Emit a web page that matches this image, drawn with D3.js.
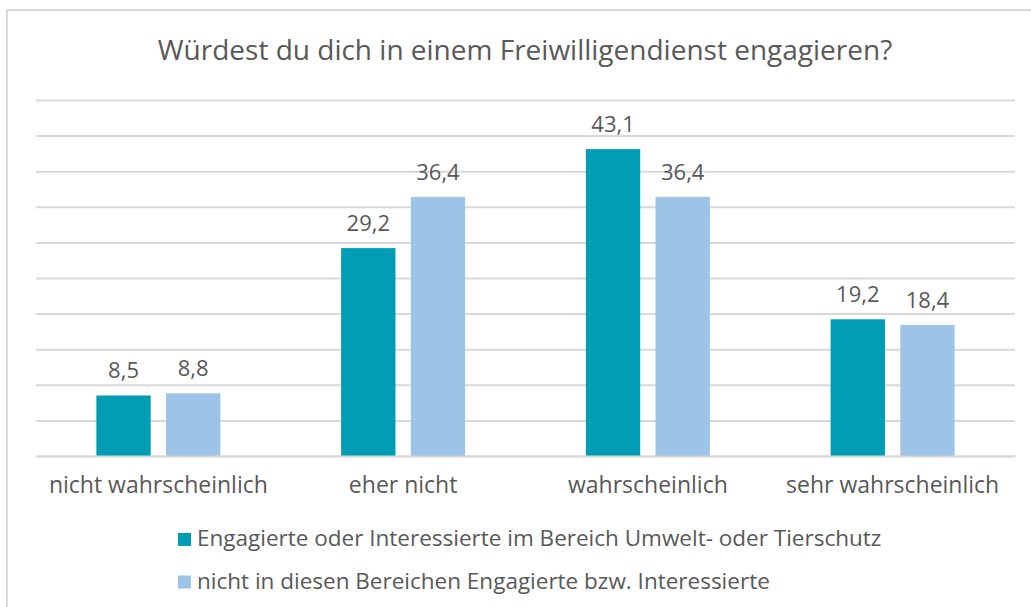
<!DOCTYPE html>
<html>
<head>
<meta charset="utf-8">
<script src="https://cdn.jsdelivr.net/npm/d3@7"></script>
<style>
  body { margin: 0; background: #fff; }
  svg text { font-family: "Open Sans", "Noto Sans", sans-serif; fill: #595959; }
</style>
</head>
<body>
<div id="chart"></div>
<script>
// chart data
const title = "Würdest du dich in einem Freiwilligendienst engagieren?";
const categories = ["nicht wahrscheinlich", "eher nicht", "wahrscheinlich", "sehr wahrscheinlich"];
const seriesNames = [
    "Engagierte oder Interessierte im Bereich Umwelt- oder Tierschutz",
    "nicht in diesen Bereichen Engagierte bzw. Interessierte"
];
const engagierte = [8.5, 29.2, 43.1, 19.2];
const nichtEngagierte = [8.8, 36.4, 36.4, 18.4];
const colours = ["#009db5", "#9dc3e6"];

const width = 1031, height = 607;
const margin = {top: 100, right: 16, bottom: 151, left: 36};

const svg = d3.select("#chart").append("svg")
    .attr("width", width)
    .attr("height", height);

// outer frame (runs off the right and bottom edge)
svg.append("rect")
    .attr("x", 7).attr("y", 10)
    .attr("width", width + 10).attr("height", height + 10)
    .attr("fill", "none")
    .attr("stroke", "#d9d9d9")
    .attr("stroke-width", 2);

svg.append("text")
    .attr("x", 525).attr("y", 60)
    .attr("text-anchor", "middle")
    .style("font-size", "28px")
    .text(title);

const chart = svg.append("g")
    .attr("transform", `translate(${margin.left},${margin.top})`);

const innerW = width - margin.left - margin.right;
const innerH = height - margin.top - margin.bottom;

const x = d3.scaleBand()
    .domain(categories)
    .range([0, innerW]);

const x1 = d3.scaleBand()
    .domain([0, 1])
    .range([0, 124])
    .paddingInner(0.22);

const y = d3.scaleLinear()
    .domain([0, 50])
    .range([innerH, 0]);

// gridlines
chart.append("g")
    .call(d3.axisLeft(y).ticks(10).tickSize(-innerW).tickFormat(""))
    .call(g => g.select(".domain").remove())
    .call(g => g.selectAll("line").attr("stroke", "#d9d9d9").attr("stroke-width", 2));

const data = [];
categories.forEach((c, i) => {
    data.push({cat: c, s: 0, val: engagierte[i]});
    data.push({cat: c, s: 1, val: nichtEngagierte[i]});
});

const fmt = v => d3.format(".1f")(v).replace(".", ",");
const groupX = d => x(d.cat) + x.bandwidth() / 2 - 62 + x1(d.s);

chart.selectAll("rect.bar")
    .data(data)
    .join("rect")
    .attr("class", "bar")
    .attr("x", groupX)
    .attr("y", d => y(d.val))
    .attr("width", x1.bandwidth())
    .attr("height", d => innerH - y(d.val))
    .attr("fill", d => colours[d.s]);

chart.selectAll("text.val")
    .data(data)
    .join("text")
    .attr("class", "val")
    .attr("x", d => groupX(d) + x1.bandwidth() / 2)
    .attr("y", d => y(d.val) - 17)
    .attr("text-anchor", "middle")
    .style("font-size", "22px")
    .text(d => fmt(d.val));

// x axis
chart.append("g")
    .attr("transform", `translate(0,${innerH})`)
    .call(d3.axisBottom(x).tickSize(0).tickPadding(21))
    .call(g => g.select(".domain").attr("stroke", "#d9d9d9").attr("stroke-width", 2))
    .call(g => g.selectAll("text")
        .style("font-size", "23px")
        .style("font-family", "'Open Sans', 'Noto Sans', sans-serif")
        .attr("fill", "#595959"));

// legend
const legend = svg.append("g")
    .attr("transform", "translate(178,533)");

seriesNames.forEach((name, i) => {
    const row = legend.append("g").attr("transform", `translate(0,${i * 42.5})`);
    row.append("rect")
        .attr("width", 13).attr("height", 13)
        .attr("fill", colours[i]);
    row.append("text")
        .attr("x", 19).attr("y", 13)
        .style("font-size", "22.5px")
        .text(name);
});
</script>
</body>
</html>
